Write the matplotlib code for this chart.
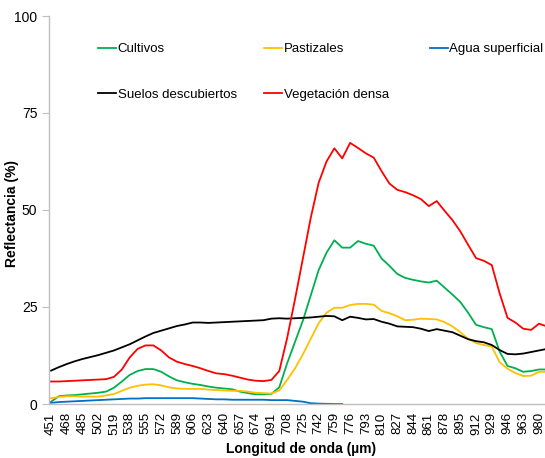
import numpy as np
import matplotlib
matplotlib.use("Agg")
import matplotlib.pyplot as plt
from matplotlib.legend import Legend

plt.rcParams['font.family'] = ['Liberation Sans', 'DejaVu Sans']

# Wavelength tick labels (category axis)
tick_labels = [451, 468, 485, 502, 519, 538, 555, 572, 589, 606, 623, 640, 657, 674, 691,
               708, 725, 742, 759, 776, 793, 810, 827, 844, 861, 878, 895, 912, 929, 946,
               963, 980]

# Sample positions along the category axis (in tick units, half-tick steps)
positions = [i * 0.5 for i in range(64)]

suelos = [8.6, 9.5, 10.3, 11.0, 11.6, 12.1, 12.6, 13.2, 13.8, 14.6, 15.4, 16.4, 17.4, 18.3,
          18.9, 19.5, 20.1, 20.5, 21.0, 21.0, 20.9, 21.0, 21.1, 21.2, 21.3, 21.4, 21.5, 21.6,
          22.0, 22.1, 22.0, 22.1, 22.2, 22.3, 22.5, 22.7, 22.6, 21.6, 22.5, 22.2, 21.8, 21.9,
          21.2, 20.7, 20.0, 19.9, 19.8, 19.4, 18.8, 19.3, 18.9, 18.5, 17.6, 16.7, 16.2, 15.9,
          15.2, 13.9, 12.9, 12.8, 13.0, 13.4, 13.8, 14.2]

vegetacion = [5.8, 5.8, 5.9, 6.0, 6.1, 6.2, 6.3, 6.4, 7.0, 8.9, 12.0, 14.2, 15.1, 15.1,
              13.8, 12.0, 10.9, 10.3, 9.8, 9.2, 8.5, 7.9, 7.7, 7.3, 6.8, 6.3, 6.0, 5.9,
              6.2, 8.5, 17.0, 27.0, 37.5, 48.0, 57.0, 62.5, 65.9, 63.3, 67.3, 66.0, 64.6, 63.5,
              60.0, 56.8, 55.2, 54.6, 53.8, 52.8, 51.0, 52.3, 49.8, 47.4, 44.5, 41.0, 37.6, 36.9,
              35.8, 28.5, 22.2, 21.0, 19.4, 19.1, 20.7, 20.0]

cultivos = [0.6, 2.0, 2.2, 2.3, 2.5, 2.7, 2.9, 3.2, 4.2, 5.8, 7.5, 8.5, 9.0, 9.0,
            8.3, 7.1, 6.1, 5.6, 5.2, 4.9, 4.5, 4.2, 4.0, 3.8, 3.2, 2.8, 2.5, 2.5,
            2.6, 4.3, 10.5, 16.0, 21.5, 28.0, 34.5, 39.0, 42.2, 40.3, 40.3, 42.0, 41.3, 40.8,
            37.5, 35.6, 33.5, 32.5, 32.0, 31.6, 31.3, 31.8, 30.0, 28.2, 26.3, 23.5, 20.4, 19.8,
            19.3, 13.5, 9.8, 9.2, 8.3, 8.5, 8.9, 8.9]

pastizales = [1.5, 1.8, 2.0, 2.0, 1.9, 1.9, 1.9, 2.2, 2.6, 3.4, 4.2, 4.7, 5.0, 5.1,
              4.8, 4.3, 4.0, 3.9, 3.9, 3.9, 3.7, 3.6, 3.5, 3.4, 3.4, 3.2, 2.9, 2.8,
              2.7, 3.5, 6.2, 9.2, 12.8, 16.8, 20.8, 23.5, 24.8, 24.8, 25.5, 25.8, 25.8, 25.6,
              24.0, 23.4, 22.6, 21.6, 21.7, 22.0, 21.9, 21.8, 21.1, 20.0, 18.5, 16.8, 15.7, 15.2,
              14.8, 10.8, 9.1, 8.0, 7.2, 7.3, 8.3, 8.3]

agua = [0.3, 0.5, 0.6, 0.7, 0.8, 0.9, 1.0, 1.1, 1.2, 1.3, 1.4, 1.4, 1.5, 1.5,
        1.5, 1.5, 1.5, 1.5, 1.5, 1.4, 1.3, 1.2, 1.2, 1.1, 1.1, 1.1, 1.1, 1.1,
        1.0, 1.0, 1.0, 0.8, 0.6, 0.2, 0.1, 0.05, 0.0, 0.0] + [np.nan] * 26

series = [
    ("Cultivos", cultivos, "#00B050"),
    ("Pastizales", pastizales, "#FFC000"),
    ("Agua superficial", agua, "#0070C0"),
    ("Suelos descubiertos", suelos, "#000000"),
    ("Vegetación densa", vegetacion, "#FF0000"),
]

fig = plt.figure(figsize=(5.45, 4.58), dpi=100)
ax = fig.add_axes([48.5 / 545, 1 - 404 / 458, 496.5 / 545, 388 / 458])

handles = {}
for name, vals, col in series:
    h, = ax.plot(positions, vals, color=col, lw=1.3, label=name)
    handles[name] = h

ax.set_xlim(-0.16, 31.38)
ax.set_ylim(0, 100)
ax.set_yticks([0, 25, 50, 75, 100])
ax.set_xticks(range(len(tick_labels)))
ax.set_xticklabels([str(t) for t in tick_labels], rotation=90, fontsize=9.5)
ax.tick_params(axis='x', length=0, pad=6)
ax.tick_params(axis='y', length=5, color='#BFBFBF', labelsize=10, pad=3)

for s in ['top', 'right']:
    ax.spines[s].set_visible(False)
for s in ['left', 'bottom']:
    ax.spines[s].set_color('#BFBFBF')
    ax.spines[s].set_linewidth(1.0)

ax.set_ylabel("Reflectancia (%)", fontsize=10, fontweight='bold')
ax.yaxis.set_label_coords(-0.06, 0.49)
ax.set_xlabel("Longitud de onda (µm)", fontsize=10, fontweight='bold')
ax.xaxis.set_label_coords(0.508, -0.097)

columns = [
    (["Cultivos", "Suelos descubiertos"], 0.1003),
    (["Pastizales", "Vegetación densa"], 0.4347),
    (["Agua superficial"], 0.7684),
]
for names, x0 in columns:
    leg = Legend(ax, [handles[n] for n in names], names, ncol=1, loc='upper left',
                 bbox_to_anchor=(x0, 0.93), frameon=False, fontsize=9.5,
                 handlelength=1.36, handletextpad=0.1,
                 labelspacing=2.52, borderpad=0, borderaxespad=0)
    ax.add_artist(leg)

fig.savefig("out.png", dpi=100)
